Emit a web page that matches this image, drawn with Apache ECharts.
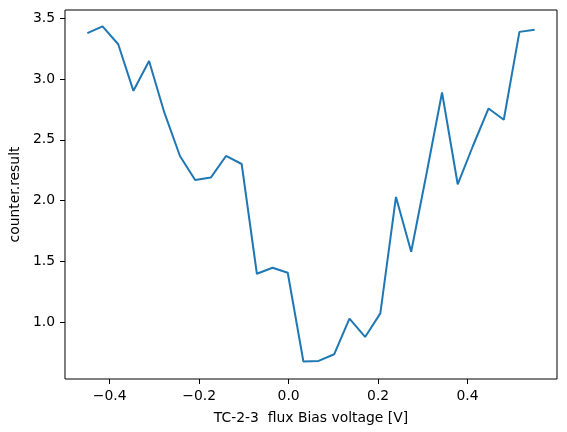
<!DOCTYPE html>
<html>
<head>
<meta charset="utf-8">
<script src="https://cdn.jsdelivr.net/npm/echarts@6/dist/echarts.min.js"></script>
<style>
  html, body { margin: 0; padding: 0; background: #fff; }
  #chart { width: 567px; height: 432px; }
</style>
</head>
<body>
<div id="chart"></div>
<script>
// bias voltage sweep [V]
const voltages = [
  -0.450, -0.416, -0.381, -0.347, -0.312, -0.278, -0.243, -0.209, -0.174, -0.140,
  -0.105, -0.071, -0.036, -0.002, 0.033, 0.067, 0.102, 0.136, 0.171, 0.205,
  0.240, 0.274, 0.309, 0.343, 0.378, 0.412, 0.447, 0.481, 0.516, 0.550
];
// counter.result
const counts = [
  3.377, 3.434, 3.286, 2.903, 3.149, 2.725, 2.367, 2.170, 2.189, 2.367,
  2.301, 1.398, 1.447, 1.406, 0.676, 0.681, 0.736, 1.029, 0.878, 1.072,
  2.030, 1.579, 2.235, 2.889, 2.134, 2.449, 2.758, 2.665, 3.388, 3.406
];
const xTicks = [-0.4, -0.2, 0.0, 0.2, 0.4];
const yTicks = [1.0, 1.5, 2.0, 2.5, 3.0, 3.5];

const fmt = v => v.toFixed(1).replace('-', '\u2212');
const font = 'DejaVu Sans';

const chart = echarts.init(document.getElementById('chart'));
chart.setOption({
  animation: false,
  backgroundColor: '#fff',
  grid: {
    left: 62, right: 10, top: 10, bottom: 53,
    show: true,
    borderColor: '#000',
    borderWidth: 1
  },
  xAxis: {
    type: 'value',
    min: -0.5,
    max: 0.6,
    name: 'TC-2-3  flux Bias voltage [V]',
    nameLocation: 'middle',
    nameGap: 32,
    nameTextStyle: { color: '#000', fontSize: 13.9, fontFamily: font },
    axisLine: { show: false, onZero: false },
    splitLine: { show: false },
    axisTick: { show: true, length: 5, customValues: xTicks, lineStyle: { color: '#000', width: 1 } },
    axisLabel: {
      customValues: xTicks,
      margin: 10,
      color: '#000',
      fontSize: 13.9,
      fontFamily: font,
      formatter: fmt
    }
  },
  yAxis: {
    type: 'value',
    min: 0.532,
    max: 3.568,
    name: 'counter.result',
    nameLocation: 'middle',
    nameGap: 39,
    nameTextStyle: { color: '#000', fontSize: 13.9, fontFamily: font },
    axisLine: { show: false, onZero: false },
    splitLine: { show: false },
    axisTick: { show: true, length: 5, customValues: yTicks, lineStyle: { color: '#000', width: 1 } },
    axisLabel: {
      customValues: yTicks,
      margin: 10,
      color: '#000',
      fontSize: 13.9,
      fontFamily: font,
      formatter: fmt
    }
  },
  series: [{
    type: 'line',
    data: voltages.map((v, i) => [v, counts[i]]),
    showSymbol: false,
    lineStyle: { color: '#1f77b4', width: 2 },
    itemStyle: { color: '#1f77b4' }
  }]
});
</script>
</body>
</html>
